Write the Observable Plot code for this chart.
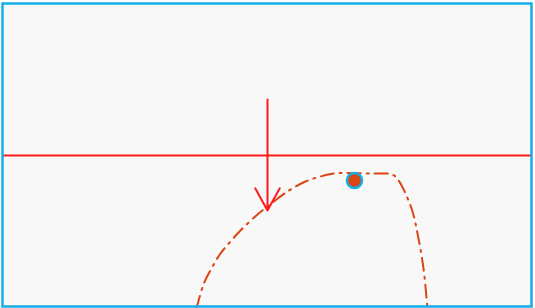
<!DOCTYPE html>
<html>
<head>
<meta charset="utf-8">
<script src="https://cdn.jsdelivr.net/npm/d3@7"></script>
<script src="https://cdn.jsdelivr.net/npm/@observablehq/plot@0.6"></script>
<style>
  html, body { margin: 0; padding: 0; background: #ffffff; }
  #chart svg { display: block; }
</style>
</head>
<body>
<div id="chart"></div>
<script>
// Curve (dash-dot), in chart units: x from 0..535, y from 0 (bottom) .. 308 (top)
const curveX = [196, 203, 211, 220, 230, 240, 257, 267, 287, 305, 320, 333, 345, 370, 390, 395, 400, 405, 412, 418, 423, 426, 427];
const curveY = [0, 24, 40, 55, 67, 78, 94, 102, 117, 127, 132, 135, 135.5, 135, 134.5, 132, 125, 115, 97, 70, 40, 11, 0];

// Horizontal reference line
const refY = [153];

// Vertical arrow (start -> end)
const arrowX1 = [267];
const arrowY1 = [209];
const arrowX2 = [267];
const arrowY2 = [98];

// Highlight point
const pointX = [354];
const pointY = [128];

const curve = curveX.map((x, i) => ({x, y: curveY[i]}));
const arrows = arrowX1.map((x1, i) => ({x1, y1: arrowY1[i], x2: arrowX2[i], y2: arrowY2[i]}));
const points = pointX.map((x, i) => ({x, y: pointY[i]}));

const W = 535, H = 308;
const blue = "#12aee8";
const orange = "#dc4412";

const chart = Plot.plot({
  width: W,
  height: H,
  margin: 0,
  style: {background: "#ffffff", overflow: "visible"},
  x: {domain: [0, W], range: [0, W], axis: null},
  y: {domain: [0, H], range: [H, 0], axis: null},
  marks: [
    Plot.frame({fill: "#f8f8f8", stroke: "none", insetLeft: 2, insetTop: 3, insetRight: 4, insetBottom: 2}),
    Plot.ruleY(refY, {stroke: "#ff1a1a", strokeWidth: 1.8, insetLeft: 2, insetRight: 4}),
    Plot.line(curve, {x: "x", y: "y", curve: "catmull-rom", stroke: orange, strokeWidth: 2, strokeDasharray: "13,6,2,6"}),
    Plot.arrow(arrows, {x1: "x1", y1: "y1", x2: "x2", y2: "y2", stroke: "#ff1a1a", strokeWidth: 2, headLength: 19, headAngle: 58}),
    Plot.dot(points, {x: "x", y: "y", r: 7.5, fill: orange, stroke: blue, strokeWidth: 2.5}),
    Plot.frame({fill: "none", stroke: blue, strokeWidth: 2.5, insetLeft: 2, insetTop: 3, insetRight: 4, insetBottom: 2})
  ]
});
document.getElementById("chart").append(chart);
</script>
</body>
</html>
